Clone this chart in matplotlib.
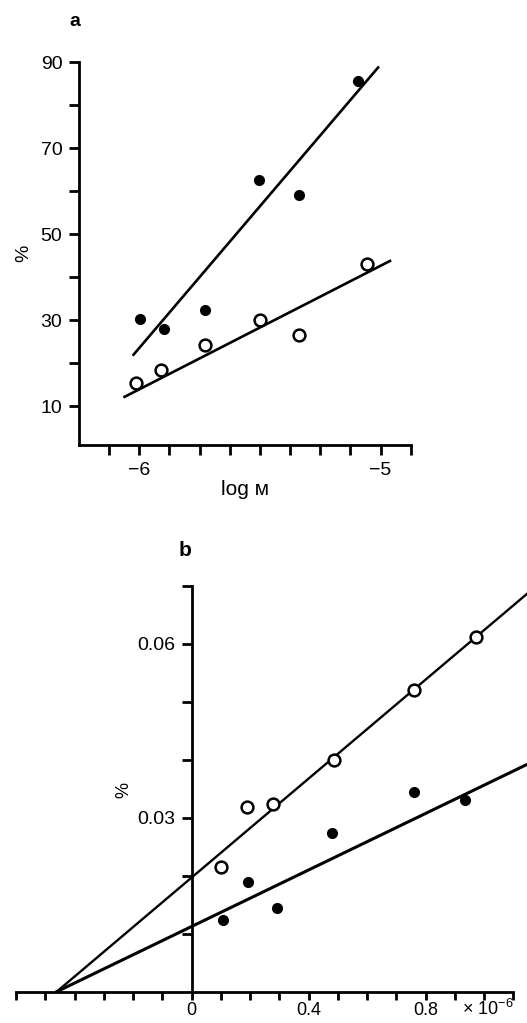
import numpy as np
import matplotlib
matplotlib.use('Agg')
import matplotlib.pyplot as plt

plt.rcParams['font.family'] = ['Liberation Sans', 'DejaVu Sans']
plt.rcParams['mathtext.fontset'] = 'custom'
plt.rcParams['mathtext.rm'] = 'Liberation Sans'
plt.rcParams['mathtext.it'] = 'Liberation Sans'

# panel a: log M vs %
A_FILLED_X = [-5.996, -5.899, -5.726, -5.502, -5.340, -5.094]
A_FILLED_Y = [30.2, 27.9, 32.4, 62.6, 59.1, 85.7]
A_OPEN_X = [-6.012, -5.909, -5.729, -5.499, -5.336, -5.058]
A_OPEN_Y = [15.5, 18.4, 24.2, 30.0, 26.5, 43.2]
A_FIT_FILLED_X = [-6.024, -5.010]
A_FIT_FILLED_Y = [22.0, 88.8]
A_FIT_OPEN_X = [-6.061, -4.961]
A_FIT_OPEN_Y = [12.2, 43.8]
A_XTICKS = [-6.125, -6.0, -5.875, -5.75, -5.625, -5.5, -5.375, -5.25, -5.125, -5.0, -4.875]
A_XLABELS = ['', '\u22126', '', '', '', '', '', '', '', '\u22125', '']
A_YTICKS = [10, 20, 30, 40, 50, 60, 70, 80, 90]
A_YLABELS = ['10', '', '30', '', '50', '', '70', '', '90']

# panel b: concentration (x 10^-6) vs %
B_OPEN_X = [0.101, 0.191, 0.277, 0.486, 0.759, 0.971]
B_OPEN_Y = [0.0216, 0.0319, 0.0324, 0.0399, 0.0521, 0.0612]
B_FILLED_X = [0.109, 0.193, 0.291, 0.480, 0.759, 0.936]
B_FILLED_Y = [0.0123, 0.0189, 0.0144, 0.0274, 0.0344, 0.0331]
B_FIT_OPEN_X = [-0.461, 1.15]
B_FIT_OPEN_Y = [0.0, 0.0688]
B_FIT_FILLED_X = [-0.461, 1.15]
B_FIT_FILLED_Y = [0.0, 0.0393]
B_XTICKS = [-0.6, -0.5, -0.4, -0.3, -0.2, -0.1, 0.0, 0.1, 0.2, 0.3, 0.4,
            0.5, 0.6, 0.7, 0.8, 0.9, 1.0, 1.1]
B_XLABELS = ['', '', '', '', '', '', '0', '', '', '', '0.4', '', '', '', '0.8', '', '', '']
B_YTICKS = [0.01, 0.02, 0.03, 0.04, 0.05, 0.06, 0.07]
B_YLABELS = ['', '', '0.03', '', '', '0.06', '']

W, H = 527, 1023
fig = plt.figure(figsize=(W / 100, H / 100), dpi=100)

LW_AX = 2.0
LW_LINE = 1.9
FS = 14

# ---------------- panel a ----------------
ax1 = fig.add_axes([79 / W, 1 - 445 / H, (410.7 - 79) / W, (445 - 62.3) / H])
ax1.set_xlim(-6.25, -4.875)
ax1.set_ylim(1, 90)
ax1.plot(A_FIT_FILLED_X, A_FIT_FILLED_Y, color='black', lw=LW_LINE)
ax1.plot(A_FIT_OPEN_X, A_FIT_OPEN_Y, color='black', lw=LW_LINE)
ax1.plot(A_FILLED_X, A_FILLED_Y, 'o', color='black', ms=7)
ax1.plot(A_OPEN_X, A_OPEN_Y, 'o', mfc='white', mec='black', mew=1.8, ms=8.5)

for s in ['top', 'right']:
    ax1.spines[s].set_visible(False)
for s in ['left', 'bottom']:
    ax1.spines[s].set_linewidth(LW_AX)
ax1.spines['left'].set_bounds(1, 90)
ax1.set_xticks(A_XTICKS)
ax1.set_xticklabels(A_XLABELS)
ax1.set_yticks(A_YTICKS)
ax1.set_yticklabels(A_YLABELS)
ax1.tick_params(direction='out', length=7, width=LW_AX, labelsize=FS, pad=5)
ax1.set_xlabel('log \u043c', fontsize=FS + 1, labelpad=1)
ax1.set_ylabel('%', fontsize=FS, labelpad=6)
fig.text(75 / W, 1 - 22 / H, 'a', fontsize=FS, fontweight='bold', ha='center', va='center')

# ---------------- panel b ----------------
ax2 = fig.add_axes([16 / W, 1 - 991.7 / H, (W - 16) / W, (991.7 - 586) / H])
ax2.set_xlim(-0.6, (W - 192.7) / 291.6)
ax2.set_ylim(0, 0.07)
ax2.plot(B_FIT_OPEN_X, B_FIT_OPEN_Y, color='black', lw=LW_LINE - 0.2, clip_on=False)
ax2.plot(B_FIT_FILLED_X, B_FIT_FILLED_Y, color='black', lw=LW_LINE + 0.3, clip_on=False)
ax2.plot(B_FILLED_X, B_FILLED_Y, 'o', color='black', ms=7)
ax2.plot(B_OPEN_X, B_OPEN_Y, 'o', mfc='white', mec='black', mew=1.8, ms=8.5)

for s in ['top', 'right']:
    ax2.spines[s].set_visible(False)
for s in ['left', 'bottom']:
    ax2.spines[s].set_linewidth(LW_AX)
ax2.spines['left'].set_position(('data', 0))
ax2.spines['left'].set_bounds(0, 0.07)
ax2.spines['bottom'].set_bounds(-0.6, 1.1)
ax2.set_xticks(B_XTICKS)
ax2.set_xticklabels(B_XLABELS)
ax2.set_yticks(B_YTICKS)
ax2.set_yticklabels(B_YLABELS)
ax2.tick_params(direction='out', length=7, width=LW_AX, labelsize=FS, pad=5)
ax2.tick_params(axis='x', length=6, pad=1.5, labelsize=FS - 1)
fig.text(124 / W, 1 - 790 / H, '%', fontsize=FS - 1, rotation=90, ha='center', va='center')
fig.text(185 / W, 1 - 550 / H, 'b', fontsize=FS + 1, fontweight='bold', ha='center', va='center')
fig.text(488 / W, 1 - 1009 / H, r'$\times\ 10^{-6}$', fontsize=FS - 1, ha='center', va='center')

fig.savefig('out.png', dpi=100)
